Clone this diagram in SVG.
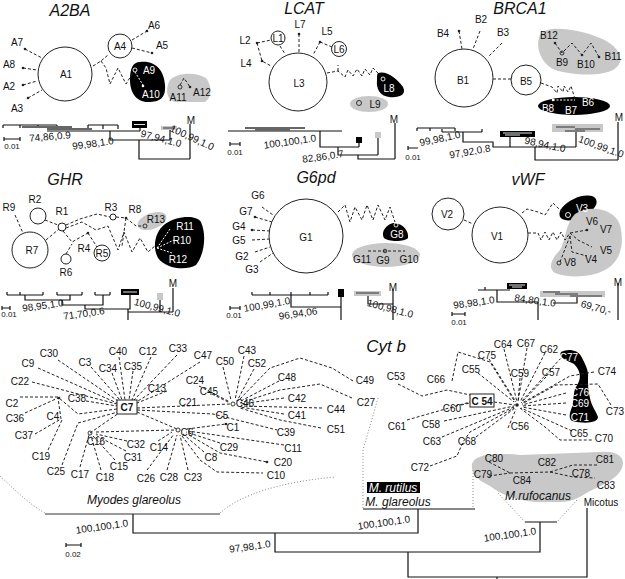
<svg xmlns="http://www.w3.org/2000/svg" width="625" height="579" viewBox="0 0 625 579">
<style>
text{font-family:"Liberation Sans",Arial,sans-serif;font-size:10px;text-anchor:middle;fill:#111}
.w{fill:#fff}
.ti{font-size:16px;font-style:italic}
.cy{font-size:17px;font-style:italic}
.it{font-style:italic;font-size:12px}
.sc{font-size:8px}
.bd{font-weight:bold}
.n{fill:#fff;stroke:#222;stroke-width:1}
.e{fill:none;stroke:#222;stroke-width:1;stroke-dasharray:3 2}
.ew{fill:none;stroke:#fff;stroke-width:1;stroke-dasharray:2 1.5}
.tr{fill:none;stroke:#111;stroke-width:1.2}
.tg{fill:none;stroke:#666;stroke-width:2}
.dt{fill:none;stroke:#888;stroke-width:1;stroke-dasharray:1 2}
.b{fill:#000}
.g{fill:#c8c8c8}
.d{fill:#222}
.sn{fill:none;stroke:#222;stroke-width:0.9}
.snw{fill:none;stroke:#fff;stroke-width:0.9}
</style>

<!-- cluster shapes -->
<g id="clusters">
<path class="b" d="M140 62C155 60 164 70 165 85C166 98 160 102 148 102C136 102 130 92 130 80C130 68 133 62 140 62Z"/>
<path class="g" d="M170 80C178 72 196 72 206 78C212 85 212 98 205 102L176 102C166 101 165 88 170 80Z"/>
<path class="b" d="M378 73C386 70 398 79 403 87C407 95 399 98 389 97C380 96 376 89 377 80C377 76 377 74 378 73Z"/>
<ellipse class="g" cx="369" cy="104" rx="19" ry="8"/>
<path class="g" d="M540 35C546 25 576 28 600 38C620 46 627 62 613 70C600 77 570 75 555 70C540 63 535 46 540 35Z"/>
<ellipse class="b" cx="574" cy="106" rx="36" ry="9"/>
<ellipse class="g" cx="152" cy="221" rx="15" ry="8" transform="rotate(-20 152 221)"/>
<path class="b" d="M165 224C176 216 196 214 201 222C207 236 204 255 196 265C186 271 166 269 158 258C152 246 155 232 165 224Z"/>
<path class="b" d="M384 238C380 231 388 223 395 223C403 224 409 231 408 238C405 242 388 242 384 238Z"/>
<ellipse class="g" cx="386" cy="255" rx="34" ry="12"/>
<ellipse class="b" cx="578" cy="208" rx="20" ry="10" transform="rotate(-25 578 208)"/>
<path class="g" d="M575 214C590 204 615 209 620 225C625 245 620 262 605 270C590 278 568 278 555 273C547 268 552 258 560 250C566 240 565 224 575 214Z"/>
<path class="b" d="M561 352C568 348 578 350 581 356C584 362 589 370 588 378C588 385 588 391 590 398C591 405 596 411 598 417C598 423 585 424 572 421C568 418 570 412 572 407C574 400 573 392 576 387C581 380 582 372 574 364C566 360 558 357 561 352Z"/>
<path class="g" d="M472 468C470 455 490 452 520 455L600 452C618 450 626 458 622 468C618 478 605 484 592 490C580 496 575 502 560 502L535 502C515 500 500 494 490 486C478 480 473 476 472 468Z"/>
<rect class="b" x="367" y="482" width="53" height="11"/>
</g>

<!-- phylogenetic trees -->
<g id="trees">
<path class="tr" d="M3 125H57M3 125v3M20 125v3M38 125v3M57 125v3M88 125H118M88 125v4M103 125v4M118 125v4M47 131H140M140 128V131M110 131V140H170M170 130V140M139 140V159H190M190 124V159"/>
<path class="tg" d="M22 127H72M47 129H92"/>
<rect class="b" x="132" y="121" width="15" height="7"/><path class="snw" d="M134 124.5H145"/>
<rect class="g" x="161" y="126" width="16" height="4"/><path class="sn" d="M163 128H175"/>
<path class="tr" d="M4 139H20M4 137v4M20 137v4"/>

<path class="tr" d="M228 131H342M320 131V147H359M359 143V147M338 147V155H378M378 138V155M358 155V159H395M395 123V159"/>
<path class="tg" d="M245 128H305M255 130H290"/>
<rect class="b" x="356" y="137" width="6" height="6"/>
<rect class="g" x="375" y="132" width="6" height="6"/>
<path class="tr" d="M230 144H240M230 142v4M240 142v4"/>

<path class="tr" d="M417 128H455M417 128v3M430 128v3M455 128v3M442 132H482M442 132v-3M482 132v-3M463 132V142H493V147H576M510 137V147M576 132V147M535 147V160H618M618 122V160"/>
<rect class="b" x="500" y="131" width="35" height="6"/><path class="snw" d="M503 133H532M505 135H520"/>
<rect class="g" x="552" y="124" width="51" height="8"/><path class="sn" d="M556 127H575M575 129H600M565 131H585"/>
<path class="tr" d="M408 148H418M408 146v4"/>

<path class="tr" d="M7 295H43M7 295v-3M20 295v-3M43 295v-3M57 295H82M57 295v-3M82 295v-3M95 295H110M95 295v-3M110 295v-3M25 295V300H70V295M62 300V305H103V295M85 305V309H130V295M128 309V320M128 312H173M173 288V312M160 300V312"/>
<rect class="b" x="121" y="289" width="18" height="6"/><path class="snw" d="M123 292H137"/>
<rect class="g" x="157" y="293" width="6" height="7"/>
<path class="tr" d="M2 308H10M2 306v4M10 306v4"/>

<path class="tr" d="M252 295H328M252 295v-3M270 295v-3M291 295v-3M310 295v-3M328 295v-3M291 295V307H341M341 297V320M368 296V304H393M393 289V320"/>
<rect class="b" x="338" y="289" width="6" height="8"/>
<rect class="g" x="354" y="291" width="27" height="5"/><path class="sn" d="M356 293H379"/>
<path class="tr" d="M230 308H240M230 306v4M240 306v4"/>

<path class="tr" d="M478 290H510M485 290v-3M497 290V302H538M538 302V320M577 297V303H553M618 283V320"/>
<rect class="b" x="507" y="283" width="20" height="6"/><path class="snw" d="M509 285H525M512 287H522"/>
<rect class="g" x="540" y="291" width="65" height="6"/><path class="sn" d="M543 292H560M555 294H578M570 296H602"/>
<path class="tr" d="M452 314H465M452 312v4M465 312v4"/>

<path d="M45 514H220" fill="none" stroke="#777" stroke-width="1.5"/>
<path class="tr" d="M133 514V533H418V509M363 509H475M275 533V552H540V522M525 522H557M408 552V577H587V508M497 577V579"/>
<path class="tr" d="M66 545H81M66 543v4M81 543v4"/>
<path class="dt" d="M0 476C15 490 30 505 45 513M220 513C240 495 280 482 335 477M378 398L363 450V508M473 470V508M498 493L525 522M577 500L557 522"/>
</g>

<!-- connectors -->
<g id="connectors">
<path class="e" d="M25 49L42 58M23 68L37 70M23 85L37 81M28 98L42 90M132 40L147 31M132 48L152 53M93 66L101 61L108 55M101 61L106 68L110 84L118 68L126 84L134 71"/>
<path class="ew" d="M135 72L143 85"/>
<path class="e" d="M180 85L184 78L190 87"/>
<path class="e" d="M257 43L271 40M280 46L285 54M257 43L262 61L271 66M299 34V53M320 42L313 55M320 42L332 47M327 73L338 71L345 77L348 70L353 76L357 69L362 76L365 69L370 75L373 68L378 73L382 77M338 71V65"/>
<path class="e" d="M459 31L462 49M480 31L473 49M502 43L488 57M493 79H511M541 83L552 87L557 93L558 86L563 92L564 86L568 92L571 86L575 99M555 43L562 53L572 43L582 55L591 43L599 57"/>
<path class="ew" d="M553 100H575"/>
<path class="e" d="M15 215L23 233M45 220L58 225M46 240L59 229M63 231L72 242L88 233M88 233L97 247M66 254L72 244M66 225L80 219L97 214L110 217M116 217L126 218M126 218L136 226L143 226M66 228L82 222L96 230L108 226L118 250L124 232L132 252L140 238L148 252L156 245M126 218L122 246"/>
<path class="ew" d="M157 248L170 229M157 248L174 240M157 248L172 253"/>
<path class="e" d="M262 207L273 215M255 217L272 222M252 230L270 231M252 240L270 239M255 252L270 247M260 262L273 253M338 212L345 205L350 222L355 207L362 220L367 205L373 220L378 205L385 220L390 207L395 222M368 251H405"/>
<path class="e" d="M464 220L473 224M522 213L527 209L538 212L545 215L553 203L558 208L566 214M528 233L538 233L541 240L545 232L549 240L553 232L557 240L561 232L565 240L570 233L587 230M570 233L578 240L592 247M570 236L572 252L587 256M570 236L560 262"/>
<path class="e" d="M58 360L118 401M38 368L117 403M91 367L120 400M112 373L122 400M119 357L125 400M133 371L129 400M151 357L132 400M177 355L134 400M200 362L138 401M167 391L137 403M32 382L117 404M86 401L117 406M117 409L78 414L59 398M20 397H58M25 413L58 398M35 434L61 419L58 398M48 450L62 420M62 465L78 423L118 412M90 433L119 413M80 467L89 435M101 470L91 436M115 460L93 436M126 451L95 435M127 441L96 434M96 432L175 430M137 412L177 429M158 441L172 432M147 470L174 434M167 470L177 435M188 470L180 435M204 452L183 434M220 443L186 432M284 445L188 431M189 435L220 453L267 462M182 436L200 460L217 472L263 473M187 429L226 424M137 410L213 414L277 430M137 408L230 404M223 367L231 400M244 356L235 400M254 369L237 401M279 381L239 402M284 398L240 404M322 408L241 406M284 414L240 407M321 428L280 420L240 408M353 381L332 368L300 358L270 368L238 401M352 398L320 384L280 390L240 403M199 386L230 402M212 394L230 403"/>
<path class="e" d="M398 384L422 396L447 390L475 396M452 381L458 352L490 362L515 402M489 359L516 402M504 349L517 402M527 348L518 402M545 353L520 402M561 358L521 402M478 373L514 402M520 378L518 402M546 377L521 403M594 372L570 376L522 403M611 405L598 384L556 385L522 404M566 393L522 405M566 403L522 406M566 415L522 407M572 431L521 408M520 408L545 427L560 440L592 440M508 428L516 409M476 437L515 408M430 466L457 456L463 442L470 432L514 408M442 437L514 407M444 421L514 406M407 420L470 402M461 405L470 403M494 402L515 405"/>
<path class="e" d="M489 462L510 473M489 476L510 473M510 473L550 472M550 472L573 465L598 465M550 472L573 477L595 478"/>
</g>

<!-- A2BA -->
<g id="A2BA"><text class="ti" x="70" y="16">A2BA</text></g>
<g id="A1"><circle class="n" cx="65" cy="74" r="27"/><text x="66" y="78">A1</text></g>
<g id="A4"><circle class="n" cx="120" cy="46" r="12"/><text x="120" y="50">A4</text></g>
<g id="A6"><circle class="d" cx="147" cy="31" r="1.3"/><text x="154" y="29">A6</text></g>
<g id="A5"><circle class="d" cx="152" cy="53" r="1.3"/><text x="162" y="49">A5</text></g>
<g id="A7"><circle class="d" cx="25" cy="49" r="1.3"/><text x="17" y="46">A7</text></g>
<g id="A8"><circle class="d" cx="23" cy="68" r="1.3"/><text x="9" y="68">A8</text></g>
<g id="A2"><circle class="d" cx="23" cy="85" r="1.3"/><text x="9" y="90">A2</text></g>
<g id="A3"><circle class="d" cx="28" cy="98" r="1.3"/><text x="17" y="112">A3</text></g>
<g id="A9"><circle class="snw" cx="135" cy="70" r="2"/><text class="w" x="149" y="74">A9</text></g>
<g id="A10"><circle cx="143" cy="86" r="1.3" fill="#fff"/><text class="w" x="151" y="98">A10</text></g>
<g id="A11"><circle class="sn" cx="180" cy="87" r="2"/><text x="178" y="101">A11</text></g>
<g id="A12"><circle class="d" cx="190" cy="87" r="1.3"/><text x="202" y="96">A12</text></g>
<g id="A2BA-labels"><text x="50" y="140" transform="rotate(-5 50 137)">74,86,0.9</text><text x="93" y="147" transform="rotate(-8 93 144)">99,98,1.0</text><text x="161" y="142" transform="rotate(15 161 139)">97,94,1.0</text><text x="192" y="141" transform="rotate(25 192 138)">100,99,1.0</text><text x="191" y="124">M</text><text class="sc" x="12" y="149">0.01</text></g>

<!-- LCAT -->
<g id="LCAT"><text class="ti" x="304" y="14">LCAT</text></g>
<g id="L3"><circle class="n" cx="298" cy="82" r="29"/><text x="299" y="87">L3</text></g>
<g id="L1"><circle class="n" cx="278" cy="38" r="7"/><text x="278" y="42">L1</text></g>
<g id="L6"><circle class="n" cx="339" cy="49" r="7.5"/><text x="339" y="53">L6</text></g>
<g id="L7"><circle class="d" cx="299" cy="34" r="1.3"/><text x="300" y="28">L7</text></g>
<g id="L5"><circle class="d" cx="320" cy="42" r="1.3"/><text x="327" y="35">L5</text></g>
<g id="L2"><circle class="d" cx="257" cy="43" r="1.3"/><text x="245" y="44">L2</text></g>
<g id="L4"><circle class="d" cx="262" cy="61" r="1.3"/><text x="246" y="67">L4</text></g>
<g id="L8"><circle class="snw" cx="383" cy="79" r="2"/><text class="w" x="389" y="92">L8</text></g>
<g id="L9"><circle class="sn" cx="359" cy="103" r="2.5"/><text x="375" y="108">L9</text></g>
<g id="LCAT-labels"><text x="290" y="145" transform="rotate(-8 290 142)">100,100,1.0</text><text x="323" y="160" transform="rotate(-8 323 157)">82,86,0.7</text><text x="394" y="123">M</text><text class="sc" x="235" y="155">0.01</text></g>

<!-- BRCA1 -->
<g id="BRCA1"><text class="ti" x="520" y="14">BRCA1</text></g>
<g id="B1"><circle class="n" cx="464" cy="78" r="29"/><text x="463" y="84">B1</text></g>
<g id="B5"><circle class="n" cx="526" cy="80" r="15"/><text x="526" y="85">B5</text></g>
<g id="B4"><circle class="d" cx="459" cy="31" r="1.3"/><text x="443" y="37">B4</text></g>
<g id="B2"><text x="481" y="23">B2</text></g>
<g id="B3"><text x="503" y="36">B3</text></g>
<g id="B12"><circle class="d" cx="555" cy="43" r="1.3"/><text x="549" y="39">B12</text></g>
<g id="B9"><circle class="sn" cx="562" cy="53" r="2"/><text x="562" y="66">B9</text></g>
<g id="B10"><circle class="d" cx="582" cy="55" r="1.3"/><text x="586" y="68">B10</text></g>
<g id="B11"><circle class="d" cx="599" cy="57" r="1.3"/><text x="613" y="60">B11</text></g>
<g id="B8"><circle cx="553" cy="100" r="1.3" fill="#fff"/><text class="w" x="548" y="112">B8</text></g>
<g id="B7"><text class="w" x="571" y="114">B7</text></g>
<g id="B6"><text class="w" x="588" y="106">B6</text></g>
<g id="BRCA1-labels"><text x="440" y="142" transform="rotate(-12 440 139)">99,98,1.0</text><text x="470" y="155" transform="rotate(-10 470 152)">97,92,0.8</text><text x="545" y="148" transform="rotate(12 545 145)">98,94,1.0</text><text x="601" y="150" transform="rotate(20 601 147)">100,99,1.0</text><text x="619" y="121">M</text><text class="sc" x="413" y="160">0.01</text></g>

<!-- GHR -->
<g id="GHR"><text class="ti" x="65" y="185">GHR</text></g>
<g id="R7"><circle class="n" cx="30" cy="250" r="18"/><text x="32" y="254">R7</text></g>
<g id="R2"><circle class="n" cx="38" cy="216" r="8"/><text x="35" y="203">R2</text></g>
<g id="R1"><circle class="n" cx="62" cy="227" r="4"/><text x="62" y="215">R1</text></g>
<g id="R9"><text x="9" y="211">R9</text></g>
<g id="R3"><circle class="n" cx="113" cy="217" r="3"/><text x="111" y="211">R3</text></g>
<g id="R8"><circle class="d" cx="126" cy="218" r="1.3"/><text x="135" y="213">R8</text></g>
<g id="R13"><circle class="sn" cx="145" cy="226" r="2"/><text x="156" y="223">R13</text></g>
<g id="R11"><text class="w" x="185" y="230">R11</text></g>
<g id="R10"><text class="w" x="182" y="244">R10</text></g>
<g id="R12"><text class="w" x="178" y="263">R12</text></g>
<g id="R4"><circle class="d" cx="88" cy="233" r="1.3"/><text x="84" y="252">R4</text></g>
<g id="R5"><circle class="n" cx="102" cy="253" r="8"/><text x="102" y="257">R5</text></g>
<g id="R6"><circle class="n" cx="66" cy="259" r="5"/><text x="66" y="276">R6</text></g>
<g id="GHR-labels"><text x="43" y="309" transform="rotate(-8 43 306)">98,95,1.0</text><text x="84" y="317" transform="rotate(-8 84 314)">71,70,0.6</text><text x="157" y="311" transform="rotate(15 157 308)">100,99,1.0</text><text x="173" y="287">M</text><text class="sc" x="9" y="317">0.01</text></g>

<!-- G6pd -->
<g id="G6pd"><text class="ti" x="316" y="183">G6pd</text></g>
<g id="G1"><circle class="n" cx="306" cy="236" r="37"/><text x="306" y="241">G1</text></g>
<g id="G6"><text x="258" y="199">G6</text></g>
<g id="G7"><circle class="d" cx="255" cy="217" r="1.3"/><text x="246" y="215">G7</text></g>
<g id="G4"><circle class="d" cx="252" cy="230" r="1.3"/><text x="239" y="230">G4</text></g>
<g id="G5"><text x="239" y="244">G5</text></g>
<g id="G2"><text x="242" y="260">G2</text></g>
<g id="G3"><text x="252" y="273">G3</text></g>
<g id="G8"><circle class="snw" cx="396" cy="225" r="2"/><text class="w" x="397" y="238">G8</text></g>
<g id="G11"><text x="362" y="263">G11</text></g>
<g id="G9"><circle class="sn" cx="385" cy="251" r="1.8"/><text x="383" y="264">G9</text></g>
<g id="G10"><text x="409" y="263">G10</text></g>
<g id="G6pd-labels"><text x="267" y="308" transform="rotate(-10 267 305)">100,99,1.0</text><text x="298" y="317" transform="rotate(-8 298 314)">96,94,06</text><text x="390" y="312" transform="rotate(15 390 309)">100,98,1.0</text><text x="393" y="291">M</text><text class="sc" x="234" y="318">0.01</text></g>

<!-- vWF -->
<g id="vWF"><text class="ti" x="528" y="185">vWF</text></g>
<g id="V1"><circle class="n" cx="500" cy="235" r="28"/><text x="497" y="240">V1</text></g>
<g id="V2"><circle class="n" cx="448" cy="214" r="16"/><text x="447" y="218">V2</text></g>
<g id="V3"><circle class="snw" cx="568" cy="215" r="2.5"/><text class="w" x="582" y="212">V3</text></g>
<g id="V6"><circle class="d" cx="587" cy="230" r="1.3"/><text x="592" y="225">V6</text></g>
<g id="V7"><text x="606" y="233">V7</text></g>
<g id="V5"><text x="606" y="254">V5</text></g>
<g id="V4"><text x="591" y="263">V4</text></g>
<g id="V8"><circle class="sn" cx="559" cy="263" r="2"/><text x="570" y="266">V8</text></g>
<g id="vWF-labels"><text x="474" y="306" transform="rotate(-8 474 303)">98,98,1.0</text><text x="535" y="304" transform="rotate(8 535 301)">84,80,1.0</text><text x="596" y="311" transform="rotate(15 596 308)">69,70,-</text><text x="618" y="286">M</text><text class="sc" x="459" y="325">0.01</text></g>

<!-- Cyt b -->
<g id="Cytb"><text class="cy" x="386" y="352">Cyt b</text></g>
<g id="C7"><rect x="117" y="400" width="20" height="14" fill="#fff" stroke="#222" stroke-width="1"/><text class="bd" x="127" y="411">C7</text></g>
<g id="C46"><circle class="sn" cx="233" cy="404" r="2"/><text x="245" y="407">C46</text></g>
<g id="C16"><circle class="sn" cx="90" cy="433" r="2"/><text x="96" y="445">C16</text></g>
<g id="C6"><circle class="sn" cx="178" cy="430" r="2"/><text x="187" y="436">C6</text></g>
<g id="C4"><circle class="d" cx="59" cy="398" r="1.3"/><text x="53" y="420">C4</text></g>
<g id="C5"><text x="222" y="419">C5</text></g>
<g id="C1"><circle class="d" cx="226" cy="424" r="1.3"/><text x="233" y="431">C1</text></g>
<g id="C20"><circle class="d" cx="267" cy="462" r="1.3"/><text x="283" y="466">C20</text></g>
<g id="CL">
<text x="49" y="357">C30</text><text x="118" y="355">C40</text><text x="148" y="355">C12</text><text x="178" y="352">C33</text><text x="247" y="354">C43</text><text x="203" y="359">C47</text><text x="225" y="365">C50</text><text x="257" y="367">C52</text><text x="28" y="367">C9</text><text x="85" y="366">C3</text><text x="108" y="372">C34</text><text x="133" y="370">C35</text><text x="287" y="381">C48</text><text x="20" y="385">C22</text><text x="195" y="384">C24</text><text x="157" y="392">C13</text><text x="209" y="395">C45</text><text x="77" y="402">C38</text><text x="297" y="402">C42</text><text x="188" y="406">C21</text><text x="12" y="407">C2</text><text x="336" y="413">C44</text><text x="297" y="419">C41</text><text x="15" y="422">C36</text><text x="286" y="436">C39</text><text x="336" y="433">C51</text><text x="24" y="439">C37</text><text x="136" y="448">C32</text><text x="159" y="451">C14</text><text x="229" y="451">C29</text><text x="293" y="452">C11</text><text x="41" y="460">C19</text><text x="133" y="461">C31</text><text x="211" y="461">C8</text><text x="119" y="470">C15</text><text x="56" y="475">C25</text><text x="80" y="478">C17</text><text x="105" y="481">C18</text><text x="146" y="482">C26</text><text x="169" y="481">C28</text><text x="193" y="481">C23</text><text x="276" y="479">C10</text><text x="365" y="384">C49</text><text x="366" y="406">C27</text>
</g>
<g id="C54"><rect x="470" y="394" width="24" height="13" fill="#fff" stroke="#222" stroke-width="1"/><text class="bd" x="482" y="405">C 54</text></g>
<g id="hub"><circle class="d" cx="517" cy="405" r="1.8"/></g>
<g id="CR">
<text x="396" y="380">C53</text><text x="436" y="383">C66</text><text x="487" y="359">C75</text><text x="503" y="348">C64</text><text x="526" y="347">C67</text><text x="549" y="353">C62</text><text class="w" x="569" y="361">C77</text><text x="471" y="373">C55</text><text x="520" y="377">C59</text><text x="551" y="376">C57</text><text x="607" y="375">C74</text><text class="w" x="580" y="396">C76</text><text class="w" x="580" y="407">C69</text><text class="w" x="580" y="421">C71</text><text x="615" y="415">C73</text><text x="452" y="412">C60</text><text x="397" y="430">C61</text><text x="431" y="428">C58</text><text x="432" y="445">C63</text><text x="467" y="445">C68</text><text x="520" y="430">C56</text><text x="579" y="437">C65</text><text x="604" y="442">C70</text><text x="420" y="471">C72</text>
</g>
<g id="CM">
<text x="494" y="462">C80</text><text x="547" y="466">C82</text><text x="605" y="463">C81</text><text x="483" y="478">C79</text><text x="522" y="484">C84</text><text x="581" y="477">C78</text><text x="606" y="489">C83</text>
</g>
<g id="taxa">
<text class="it" x="538" y="500">M.rufocanus</text>
<text x="601" y="506">Micotus</text>
<text class="it w" x="393" y="492">M. rutilus</text>
<text class="it" x="398" y="506">M. glareolus</text>
<text class="it" x="134" y="504">Myodes glareolus</text>
<text x="102" y="530" transform="rotate(-8 102 527)">100,100,1.0</text>
<text x="250" y="550" transform="rotate(-8 250 547)">97,98,1.0</text>
<text x="384" y="526" transform="rotate(-8 384 523)">100,100,1.0</text>
<text x="510" y="538" transform="rotate(-8 510 535)">100,100,1.0</text>
<text class="sc" x="73" y="557">0.02</text>
</g>
</svg>
